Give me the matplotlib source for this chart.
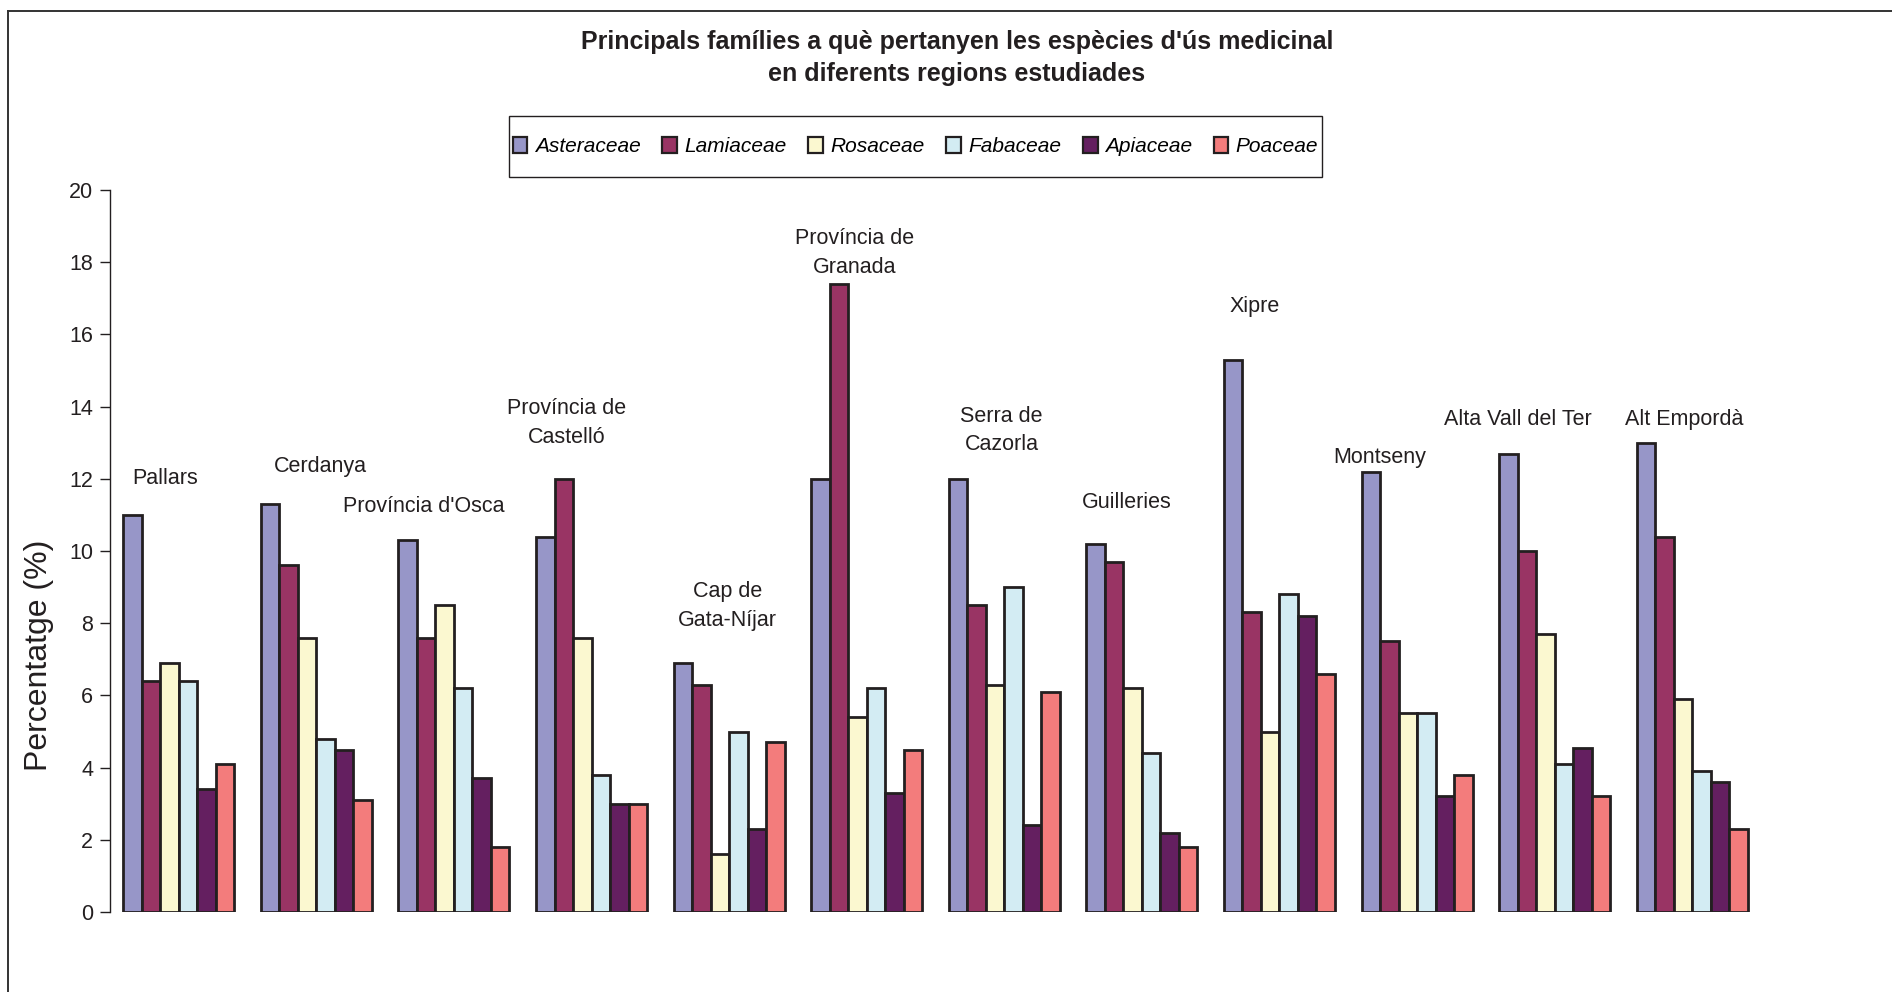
import matplotlib
matplotlib.use("Agg")
import matplotlib.pyplot as plt
from matplotlib import font_manager
from matplotlib.lines import Line2D
from matplotlib.patches import Rectangle
import numpy as np

regions = ["Pallars", "Cerdanya", "Província d'Osca", "Província de\nCastelló",
           "Cap de\nGata-Níjar", "Província de\nGranada", "Serra de\nCazorla",
           "Guilleries", "Xipre", "Montseny", "Alta Vall del Ter", "Alt Empordà"]

families = ["Asteraceae", "Lamiaceae", "Rosaceae", "Fabaceae", "Apiaceae", "Poaceae"]

asteraceae = [11.0, 11.3, 10.3, 10.4, 6.9, 12.0, 12.0, 10.2, 15.3, 12.2, 12.7, 13.0]
lamiaceae  = [6.4, 9.6, 7.6, 12.0, 6.3, 17.4, 8.5, 9.7, 8.3, 7.5, 10.0, 10.4]
rosaceae   = [6.9, 7.6, 8.5, 7.6, 1.6, 5.4, 6.3, 6.2, 5.0, 5.5, 7.7, 5.9]
fabaceae   = [6.4, 4.8, 6.2, 3.8, 5.0, 6.2, 9.0, 4.4, 8.8, 5.5, 4.1, 3.9]
apiaceae   = [3.4, 4.5, 3.7, 3.0, 2.3, 3.3, 2.4, 2.2, 8.2, 3.2, 4.55, 3.6]
poaceae    = [4.1, 3.1, 1.8, 3.0, 4.7, 4.5, 6.1, 1.8, 6.6, 3.8, 3.2, 2.3]

yticks = [0, 2, 4, 6, 8, 10, 12, 14, 16, 18, 20]

# label anchor per region (x offset from category centre, y in data units)
label_dx = [-0.1, 0.03, -0.22, -0.18, -0.01, -0.09, -0.02,
            -0.11, -0.18, -0.27, -0.27, -0.06]
label_y = [12.0, 12.34, 11.24, 13.55, 8.48, 18.26, 13.34, 11.34, 16.76, 12.58, 13.65, 13.65]

colors = ["#9796c8", "#993464", "#fbf8d0", "#d3ecf3", "#641f60", "#f37c7c"]
edge = "#231f20"

available = {f.name for f in font_manager.fontManager.ttflist}
narrow = "Liberation Sans Narrow" if "Liberation Sans Narrow" in available else "Liberation Sans"
plt.rcParams["font.family"] = ["Liberation Sans", "DejaVu Sans"]

W, H = 1892, 992
fig = plt.figure(figsize=(W / 100, H / 100), dpi=100)
fig.patch.set_facecolor("white")

# outer frame: left and top edges
fig.add_artist(Line2D([8 / W, 8 / W], [0, 1 - 11 / H], transform=fig.transFigure,
                      color="#333333", lw=1.4))
fig.add_artist(Line2D([8 / W, 1], [1 - 11 / H, 1 - 11 / H], transform=fig.transFigure,
                      color="#333333", lw=1.4))

ax = fig.add_axes([110 / W, 80 / H, 1651 / W, 722 / H])

series = [asteraceae, lamiaceae, rosaceae, fabaceae, apiaceae, poaceae]
x = np.arange(len(regions))
bw = 0.1345
for i, (vals, c, name) in enumerate(zip(series, colors, families)):
    ax.bar(x - 3 * bw + (i + 0.5) * bw, vals, width=bw, color=c, edgecolor=edge,
           linewidth=2.0, label=name, zorder=2)

ax.set_xlim(-0.5, len(regions) - 0.5)
ax.set_ylim(0, 20)
ax.set_yticks(yticks)
ax.set_yticklabels([str(t) for t in yticks], fontsize=15.5, color="#231f20")
ax.tick_params(axis="y", direction="out", length=7, width=1.0, color="#231f20", pad=5)
ax.set_xticks([])
for s in ["top", "right", "bottom"]:
    ax.spines[s].set_visible(False)
ax.spines["left"].set_color("#231f20")
ax.spines["left"].set_linewidth(1.0)
ax.spines["left"].set_bounds(0, 20)

ax.set_ylabel("Percentatge (%)", fontsize=23, color="#231f20")
ax.yaxis.set_label_coords(-0.034, 0.356)

for xi, name, dx, yy in zip(x, regions, label_dx, label_y):
    ax.text(xi + dx, yy, name, ha="center", va="center", fontsize=15.5,
            color="#231f20", linespacing=1.48)

fig.text(957 / W, 1 - 58 / H,
         "Principals famílies a què pertanyen les espècies d'ús medicinal\nen diferents regions estudiades",
         ha="center", va="center", fontsize=18, fontweight="bold", family=[narrow, "DejaVu Sans"],
         color="#231f20", linespacing=1.43)

# legend box
fig.add_artist(Rectangle((509 / W, 1 - 177 / H), 813 / W, 61 / H, transform=fig.transFigure,
                         facecolor="white", edgecolor="#231f20", linewidth=1.0, zorder=3))
leg = fig.legend(loc="center", bbox_to_anchor=(915.5 / W, 1 - 146.5 / H), ncol=6,
                 frameon=False,
                 prop={"family": [narrow, "DejaVu Sans"], "style": "italic", "size": 15},
                 handlelength=0.7, handleheight=0.8, handletextpad=0.35,
                 columnspacing=1.05, borderpad=0.2, borderaxespad=0)
leg.set_zorder(4)
for h in leg.legend_handles:
    h.set_linewidth(1.6)

fig.savefig("out.png", dpi=100)
